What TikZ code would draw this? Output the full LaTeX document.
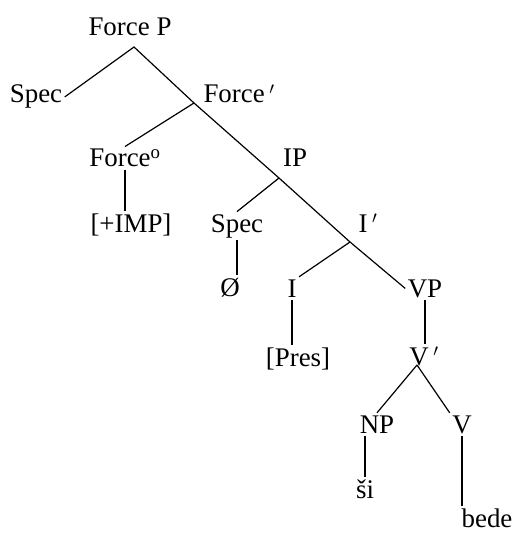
\documentclass[tikz,border=0pt]{standalone}
\usepackage{fontspec}
\setmainfont{Liberation Serif}
\begin{document}
\begin{tikzpicture}[x=1bp,y=-1bp,font=\fontsize{27}{32}\selectfont,line width=1.2bp]
\tikzset{lbl/.style={inner sep=2bp, anchor=base}}
\useasboundingbox (0,0) rectangle (514,536);

\node[lbl] (fp) at (130,36) {Force P};
\node[lbl] (spec) at (36,103) {Spec};
\node[lbl] (fbar) at (239,103) {Force\,$'$};
\node[lbl] (fo) at (125,167) {Force$^{\mathrm{o}}$};
\node[lbl] (imp) at (131,232) {[+IMP]};
\node[lbl] (ip) at (295,167) {IP};
\node[lbl] (ispec) at (237,232) {Spec};
\node[lbl] (ibar) at (368,232) {I\,$'$};
\node[lbl] (zero) at (230,296) {\O};
\node[lbl] (i) at (292,297) {I};
\node[lbl] (vp) at (425,297) {VP};
\node[lbl] (pres) at (298,366) {[Pres]};
\node[lbl] (vbar) at (424,365) {V\,$'$};
\node[lbl] (np) at (377,433) {NP};
\node[lbl] (v) at (462,433) {V};
\node[lbl] (si) at (365,498) {\v{s}i};
\node[lbl] (bede) at (487,527) {bede};

\coordinate (top) at (134,47);
\coordinate (fbarj) at (194,103);
\coordinate (ipj) at (279,178);
\coordinate (ibarj) at (350,242);
\coordinate (vbarj) at (417,365);

\draw (spec.east) -- (top) -- (fbarj) -- (ipj) -- (ibarj) -- (vp.west);
\draw (fbarj) -- (fo.north);
\draw (fo.south) -- (fo.south |- imp.north);
\draw (ipj) -- (ispec.north);
\draw (ispec.south) -- (ispec.south |- zero.north);
\draw (ibarj) -- (i.north east);
\draw (i.south) -- (i.south |- pres.north);
\draw (vp.south) -- (vp.south |- vbar.north);
\draw (vbarj) -- (np.north);
\draw (vbarj) -- (v.north west);
\draw (si.north |- np.south) -- (si.north);
\draw (v.south) -- (v.south |- bede.north);
\end{tikzpicture}
\end{document}
